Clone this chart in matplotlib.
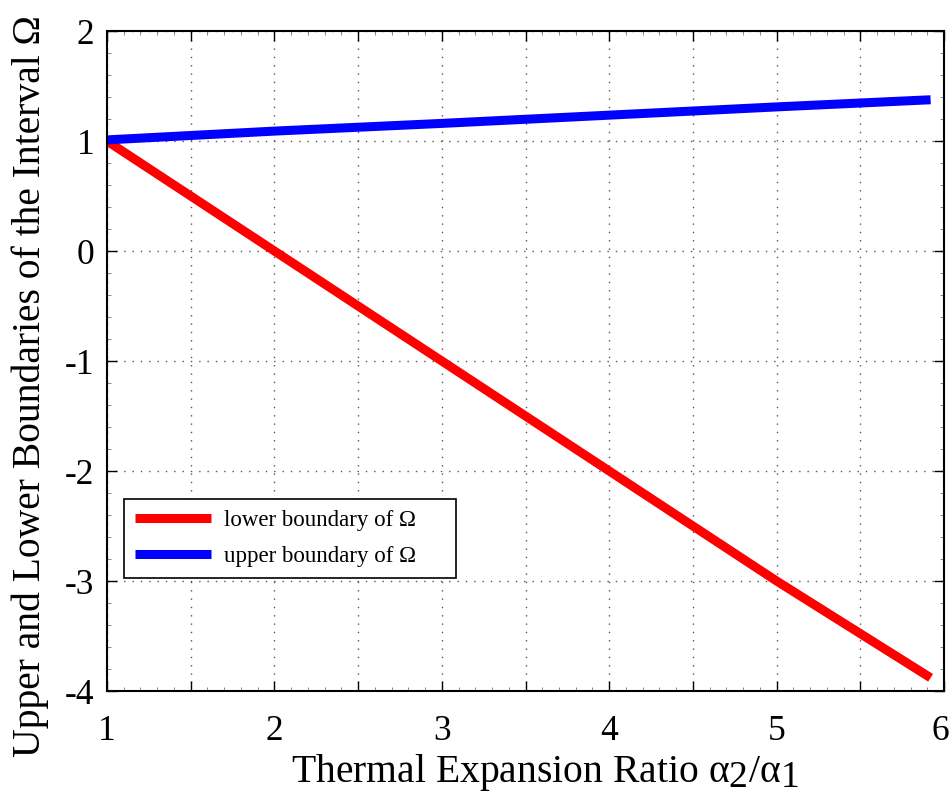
import matplotlib
matplotlib.use("Agg")
import matplotlib.pyplot as plt
import matplotlib._mathtext as _mt
import matplotlib.transforms as mtrans
import numpy as np
from matplotlib.ticker import MultipleLocator, FuncFormatter

_mt.SHRINK_FACTOR = 0.95

plt.rcParams['font.family'] = ['Liberation Serif', 'DejaVu Serif']
plt.rcParams['mathtext.fontset'] = 'custom'
plt.rcParams['mathtext.rm'] = 'Liberation Serif'
plt.rcParams['mathtext.it'] = 'Liberation Serif'
plt.rcParams['axes.unicode_minus'] = False

ratio = [1.0, 2.0, 3.0, 4.0, 5.0, 5.92]
lower = [1.0, 0.0, -1.0, -2.0, -3.0, -3.88]
upper = [1.01, 1.09, 1.16, 1.235, 1.31, 1.375]

fig = plt.figure(figsize=(9.53, 7.95), dpi=100)
ax = fig.add_axes([107/953, 1-691/795, (944-107)/953, (691-31)/795])

ax.plot(ratio, lower, color='#ff0000', lw=6.5, label='lower boundary of Ω     ', solid_capstyle='butt')
ax.plot(ratio, upper, color='#0000ff', lw=6.5, label='upper boundary of Ω     ', solid_capstyle='butt')

ax.set_xlim(1, 6)
ax.set_ylim(-4, 2)
ax.xaxis.set_major_locator(MultipleLocator(0.5))
ax.xaxis.set_major_formatter(FuncFormatter(lambda v, p: f"{int(round(v))}" if abs(v - round(v)) < 1e-6 else ""))
ax.yaxis.set_major_locator(MultipleLocator(1))
ax.yaxis.set_major_formatter(FuncFormatter(lambda v, p: f"{int(round(v))}"))
ax.xaxis.set_minor_locator(MultipleLocator(0.1))
ax.yaxis.set_minor_locator(MultipleLocator(0.2))
ax.tick_params(which='both', direction='in', top=True, right=True)
ax.tick_params(which='major', length=7, width=1.0, labelsize=25.5)
ax.tick_params(which='minor', length=3, width=0.6, color='#777777')
ax.tick_params(axis='x', pad=17)
ax.tick_params(axis='y', pad=9)
ax.grid(True, which='major', linestyle=(0, (1, 5)), color='#555555', linewidth=1.0)
for s in ax.spines.values():
    s.set_linewidth(1.5)

ax.set_xlabel(r'Thermal Expansion Ratio $\alpha_2/\alpha_1$', fontsize=28.5)
ax.xaxis.set_label_coords((545-107)/837, -0.093)
ax.xaxis.label.set_va('top')
ax.set_ylabel('Upper and Lower Boundaries of the Interval Ω', fontsize=28.5)
ax.yaxis.set_label_coords(-(107-30)/837, (691-386)/660)
ax.yaxis.label.set_va('center')

leg = ax.legend(loc='lower left', bbox_to_anchor=(17/837, (691-578)/660), fontsize=16.5,
                frameon=True, fancybox=False, edgecolor='black', framealpha=1,
                handlelength=3.3, handletextpad=0.55, borderpad=0.5, labelspacing=0.62,
                borderaxespad=0)
leg.get_frame().set_linewidth(1.2)

fig.canvas.draw()
last = [t for t in ax.get_xticklabels() if t.get_text() == '6']
for t in last:
    t.set_transform(t.get_transform() + mtrans.ScaledTranslation(-4/100, 0, fig.dpi_scale_trans))

fig.savefig('out.png', dpi=100)
